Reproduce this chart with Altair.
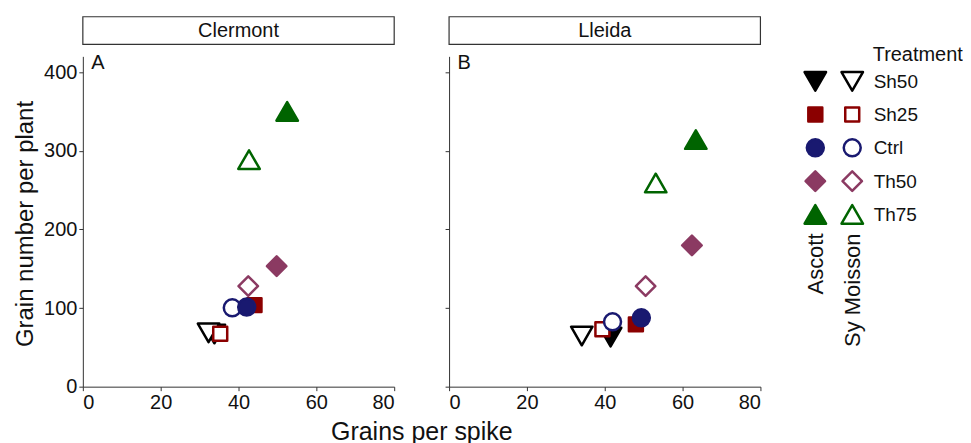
import altair as alt
import pandas as pd

sites = ["Clermont", "Lleida"]
panel_letters = ["A", "B"]
treatments = ["Sh50", "Sh25", "Ctrl", "Th50", "Th75"]
cultivars = ["Ascott", "Sy Moisson"]
treatment_colors = ["#000000", "#8B0000", "#191970", "#8B3A62", "#006400"]
treatment_shapes = ["triangle-down", "square", "circle", "diamond", "triangle-up"]
treatment_sizes = [462, 196, 289, 380, 462]

site_col = ["Clermont"] * 10 + ["Lleida"] * 10
cultivar_col = [
    "Ascott", "Sy Moisson", "Ascott", "Sy Moisson", "Sy Moisson",
    "Ascott", "Ascott", "Sy Moisson", "Ascott", "Sy Moisson",
    "Sy Moisson", "Ascott", "Sy Moisson", "Ascott", "Sy Moisson",
    "Ascott", "Ascott", "Sy Moisson", "Ascott", "Sy Moisson",
]
treatment_col = [
    "Sh50", "Sh50", "Sh25", "Sh25", "Ctrl", "Ctrl", "Th50", "Th50", "Th75", "Th75",
    "Sh50", "Sh50", "Sh25", "Sh25", "Ctrl", "Ctrl", "Th50", "Th50", "Th75", "Th75",
]
grains_per_spike = [
    33.8, 32.3, 44.1, 35.3, 38.4, 42.1, 49.8, 42.5, 52.5, 42.7,
    34.1, 41.5, 39.4, 48.0, 42.0, 49.4, 62.4, 50.5, 63.4, 53.1,
]
grain_number = [
    67, 68.5, 103.7, 67.3, 100.3, 101.2, 153.3, 127.9, 350, 288.7,
    64.4, 63.1, 72.9, 79.2, 82.5, 87.6, 179.6, 127.9, 314.2, 259,
]

df = pd.DataFrame({
    "site": site_col,
    "cultivar": cultivar_col,
    "treatment": treatment_col,
    "gps": grains_per_spike,
    "gnp": grain_number,
})

FONT = "Liberation Sans"
W, H = 312, 331
AXIS_COLOR = "#333333"
TICK_FONT = 20

shape_scale = alt.Scale(domain=treatments, range=treatment_shapes)
color_scale = alt.Scale(domain=treatments, range=treatment_colors)
size_scale = alt.Scale(type="ordinal", domain=treatments, range=treatment_sizes)


def symbol_encodings():
    return dict(
        shape=alt.Shape("treatment:N", scale=shape_scale, legend=None),
        stroke=alt.Stroke("treatment:N", scale=color_scale, legend=None),
        fill=alt.condition(
            alt.datum.cultivar == "Ascott",
            alt.Fill("treatment:N", scale=color_scale, legend=None),
            alt.value("white"),
        ),
        size=alt.Size("treatment:N", scale=size_scale, legend=None),
    )


def panel(i):
    site = sites[i]
    first = i == 0
    xaxis_kwargs = dict(
        values=[0, 20, 40, 60, 80], tickSize=4, labelFontSize=TICK_FONT, labelColor="#111",
        labelPadding=2, domainColor=AXIS_COLOR, tickColor=AXIS_COLOR, grid=False,
    )
    if first:
        xaxis = alt.Axis(
            title="Grains per spike", titleFontSize=25, titleFontWeight="normal",
            titleColor="#111", titleX=339.2, titleY=52.6, titleAlign="center",
            titleBaseline="alphabetic", **xaxis_kwargs,
        )
        yaxis = alt.Axis(
            values=[0, 100, 200, 300, 400], tickSize=4, labelFontSize=TICK_FONT, labelColor="#111",
            labelPadding=2, domainColor=AXIS_COLOR, tickColor=AXIS_COLOR, grid=False,
            title="Grain number per plant", titleFontSize=24, titleFontWeight="normal",
            titleColor="#111", titleX=-50, titleY=H / 2 + 2, titleAngle=270,
            titleAlign="center", titleBaseline="alphabetic",
        )
    else:
        xaxis = alt.Axis(title=None, **xaxis_kwargs)
        yaxis = alt.Axis(
            values=[0, 100, 200, 300, 400], tickSize=4, labels=False,
            domainColor=AXIS_COLOR, tickColor=AXIS_COLOR, grid=False, title=None,
        )

    points = (
        alt.Chart(df)
        .transform_filter(alt.datum.site == site)
        .mark_point(filled=True, strokeWidth=2.5, strokeJoin="round", opacity=1)
        .encode(
            x=alt.X("gps:Q", scale=alt.Scale(domain=[0, 80], nice=False, zero=False), axis=xaxis),
            y=alt.Y("gnp:Q", scale=alt.Scale(domain=[0, 420], nice=False), axis=yaxis),
            **symbol_encodings(),
        )
    )

    hdr = pd.DataFrame({"site": [site], "letter": [panel_letters[i]]})
    rect = alt.Chart(hdr).mark_rect(fill="white", stroke=AXIS_COLOR, strokeWidth=1.2).encode(
        x=alt.value(0), x2=alt.value(W), y=alt.value(-39.7), y2=alt.value(-12)
    )
    htext = alt.Chart(hdr).mark_text(fontSize=20, baseline="middle", color="#111").encode(
        x=alt.value(W / 2), y=alt.value(-25.5), text="site:N"
    )
    letter = alt.Chart(hdr).mark_text(fontSize=20, align="left", baseline="alphabetic", color="#111").encode(
        x=alt.value(8.4), y=alt.value(12.3), text="letter:N"
    )
    return alt.layer(rect, htext, letter, points).properties(width=W, height=H)


leg_df = pd.DataFrame(
    [{"treatment": t, "cultivar": c} for t in treatments for c in cultivars]
)
legend = (
    alt.Chart(leg_df)
    .mark_point(filled=True, strokeWidth=2.5, strokeJoin="round", opacity=1)
    .encode(
        x=alt.X(
            "cultivar:N", sort=cultivars, scale=alt.Scale(type="point", padding=0),
            axis=alt.Axis(orient="bottom", title=None, ticks=False, domain=False,
                          labelAngle=270, labelFontSize=22, labelPadding=2, labelColor="#111"),
        ),
        y=alt.Y(
            "treatment:N", sort=treatments,
            scale=alt.Scale(type="point", padding=0.625, align=0.6),
            axis=alt.Axis(orient="right", ticks=False, domain=False, labelFontSize=19,
                          labelPadding=21, labelColor="#111", title="Treatment",
                          titleFontSize=20, titleFontWeight="normal", titleColor="#111",
                          titleAngle=0, titleAlign="left", titleBaseline="middle",
                          titleX=20, titleY=-2),
        ),
        **symbol_encodings(),
    )
    .properties(width=37, height=175)
)

chart = (
    alt.hconcat(panel(0), panel(1), legend, spacing=55, bounds="flush")
    .properties(padding={"left": 6, "top": 7, "right": 0, "bottom": 0})
    .configure(font=FONT)
    .configure_view(stroke=None)
)

chart.save("out.html", embed_options={"renderer": "svg", "actions": False})
